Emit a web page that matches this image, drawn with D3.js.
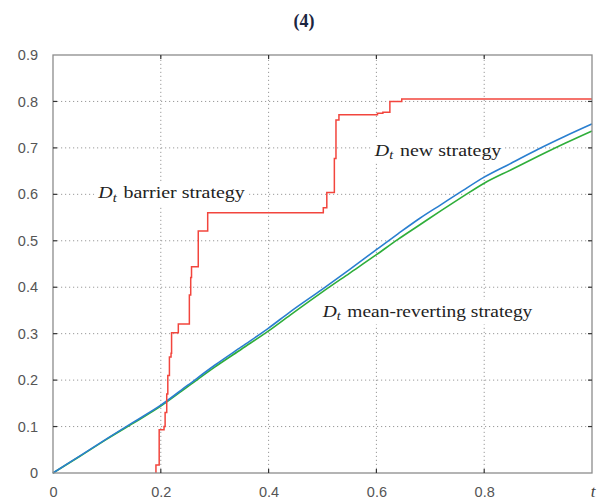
<!DOCTYPE html>
<html><head><meta charset="utf-8">
<script src="https://cdn.jsdelivr.net/npm/d3@7"></script>
<style>
html,body{margin:0;padding:0;background:#fff;}
svg{display:block;}
</style></head>
<body>
<svg id="chart" width="604" height="504"></svg>
<script>
// ---- data ----
const title = "(4)";
const xTicks = [0, 0.2, 0.4, 0.6, 0.8];
const xTickLabels = ["0", "0.2", "0.4", "0.6", "0.8"];
const xAxisName = "t";
const yTicks = [0, 0.1, 0.2, 0.3, 0.4, 0.5, 0.6, 0.7, 0.8, 0.9];
const yTickLabels = ["0", "0.1", "0.2", "0.3", "0.4", "0.5", "0.6", "0.7", "0.8", "0.9"];

// barrier strategy (step function, value holds from t until next t)
const barrierT = [0.191, 0.191, 0.197, 0.206, 0.208, 0.211, 0.213, 0.216, 0.219, 0.220, 0.2325, 0.253, 0.2555, 0.257, 0.2695, 0.287, 0.5015, 0.508, 0.522, 0.525, 0.5305, 0.602, 0.612, 0.625, 0.647, 1.0];
const barrierV = [0.000, 0.017, 0.093, 0.100, 0.130, 0.170, 0.210, 0.250, 0.258, 0.302, 0.321, 0.383, 0.421, 0.444, 0.521, 0.5605, 0.571, 0.604, 0.677, 0.760, 0.7715, 0.7745, 0.7767, 0.800, 0.805, 0.805];

// new strategy (blue) and mean-reverting strategy (green)
const smoothT = [0, 0.05, 0.1, 0.15, 0.2, 0.25, 0.3, 0.35, 0.4, 0.44, 0.5, 0.55, 0.6, 0.64, 0.68, 0.72, 0.76, 0.8, 0.85, 0.9, 0.95, 1.0];
const newV    = [0, 0.037, 0.074, 0.110, 0.146, 0.189, 0.232, 0.272, 0.312, 0.347, 0.396, 0.438, 0.481, 0.515, 0.548, 0.578, 0.608, 0.637, 0.667, 0.697, 0.725, 0.7515];
const meanV   = [0, 0.036, 0.073, 0.108, 0.144, 0.186, 0.228, 0.267, 0.306, 0.340, 0.390, 0.430, 0.470, 0.503, 0.534, 0.565, 0.595, 0.624, 0.653, 0.682, 0.710, 0.7365];

const labels = [
  {name: "barrier strategy", t: 0.082, v: 0.5915, width: 148},
  {name: "new strategy", t: 0.595, v: 0.683, width: 128},
  {name: "mean-reverting strategy", t: 0.4985, v: 0.336, width: 211}
];

// ---- drawing ----
const svg = d3.select("#chart");
const x = d3.scaleLinear().domain([0, 1]).range([53, 592]);
const y = d3.scaleLinear().domain([0, 0.9]).range([473, 55]);

// title
svg.append("text")
  .attr("x", 304).attr("y", 27)
  .attr("text-anchor", "middle")
  .attr("font-family", "Liberation Serif, serif")
  .attr("font-weight", "bold")
  .attr("font-size", 18)
  .attr("fill", "#1b2540")
  .text(title);

// gridlines
const grid = svg.append("g");
grid.selectAll("line.vg").data(xTicks.filter(d => d > 0)).join("line")
  .attr("x1", d => x(d)).attr("x2", d => x(d))
  .attr("y1", y(0)).attr("y2", y(0.9))
  .attr("stroke", "#9a9a9a").attr("stroke-width", 1)
  .attr("stroke-dasharray", "1.2,2.8");
grid.selectAll("line.hg").data(yTicks.filter(d => d > 0 && d < 0.9)).join("line")
  .attr("x1", x(0)).attr("x2", x(1))
  .attr("y1", d => y(d)).attr("y2", d => y(d))
  .attr("stroke", "#9a9a9a").attr("stroke-width", 1)
  .attr("stroke-dasharray", "1.2,2.8");

// curves
const lineSmooth = (vals) => d3.line()
  .x((d, i) => x(smoothT[i]))
  .y(d => y(d))
  .curve(d3.curveMonotoneX)(vals);

svg.append("path").attr("d", lineSmooth(meanV))
  .attr("fill", "none").attr("stroke", "#2fae3a").attr("stroke-width", 1.6);
svg.append("path").attr("d", lineSmooth(newV))
  .attr("fill", "none").attr("stroke", "#2a7fd0").attr("stroke-width", 1.6);

const barrierPts = barrierT.map((t, i) => [t, barrierV[i]]);
svg.append("path")
  .attr("d", d3.line().x(d => x(d[0])).y(d => y(d[1])).curve(d3.curveStepAfter)(barrierPts))
  .attr("fill", "none").attr("stroke", "#f2453d").attr("stroke-width", 1.5);

// border
svg.append("rect")
  .attr("x", x(0)).attr("y", y(0.9))
  .attr("width", x(1) - x(0)).attr("height", y(0) - y(0.9))
  .attr("fill", "none").attr("stroke", "#8c8c8c").attr("stroke-width", 1.3);

// inner ticks on all sides
const tk = svg.append("g").attr("stroke", "#333").attr("stroke-width", 1.2);
xTicks.filter(d => d > 0).forEach(d => {
  tk.append("line").attr("x1", x(d)).attr("x2", x(d)).attr("y1", y(0)).attr("y2", y(0) - 4);
  tk.append("line").attr("x1", x(d)).attr("x2", x(d)).attr("y1", y(0.9)).attr("y2", y(0.9) + 4);
});
yTicks.filter(d => d > 0 && d < 0.9).forEach(d => {
  tk.append("line").attr("x1", x(0)).attr("x2", x(0) + 4).attr("y1", y(d)).attr("y2", y(d));
  tk.append("line").attr("x1", x(1)).attr("x2", x(1) - 4).attr("y1", y(d)).attr("y2", y(d));
});

// axis labels via d3 axes
const yAxis = d3.axisLeft(y).tickValues(yTicks)
  .tickFormat((d, i) => yTickLabels[i]).tickSize(0).tickPadding(15);
const gy = svg.append("g").attr("transform", `translate(${x(0)},0)`).call(yAxis);
gy.select(".domain").remove();
gy.selectAll("text").attr("font-family", "Liberation Sans, Arial, sans-serif")
  .attr("font-size", 14.5).attr("fill", "#555");

const xAxis = d3.axisBottom(x).tickValues(xTicks)
  .tickFormat((d, i) => xTickLabels[i]).tickSize(0).tickPadding(14);
const gx = svg.append("g").attr("transform", `translate(0,${y(0)})`).call(xAxis);
gx.select(".domain").remove();
gx.selectAll("text").attr("font-family", "Liberation Sans, Arial, sans-serif")
  .attr("font-size", 14.5).attr("fill", "#555");

svg.append("text")
  .attr("x", x(1) + 1).attr("y", 497)
  .attr("text-anchor", "middle")
  .attr("font-family", "Liberation Serif, serif")
  .attr("font-style", "italic")
  .attr("font-size", 17).attr("fill", "#444")
  .text(xAxisName);

// curve labels with white backgrounds (glyphs stretched to reference width)
labels.forEach(lb => {
  const g = svg.append("g");
  const bg = g.append("rect").attr("fill", "#fff");
  const tg = g.append("g");
  const txt = tg.append("text")
    .attr("x", 0).attr("y", 0)
    .attr("font-family", "Liberation Serif, serif")
    .attr("font-size", 17.5).attr("fill", "#222");
  txt.append("tspan").attr("font-style", "italic").text("D");
  txt.append("tspan").attr("font-style", "italic").attr("font-size", 12.5).attr("dy", 3.5).text("t");
  txt.append("tspan").attr("dy", -3.5).attr("dx", 6).text(lb.name);
  const bb0 = txt.node().getBBox();
  const s = lb.width / bb0.width;
  tg.attr("transform", `translate(${x(lb.t) - bb0.x * s},${y(lb.v)}) scale(${s},1)`);
  bg.attr("x", x(lb.t) - 3).attr("y", y(lb.v) + bb0.y - 1)
    .attr("width", lb.width + 6).attr("height", bb0.height + 2);
});
</script>
</body></html>
